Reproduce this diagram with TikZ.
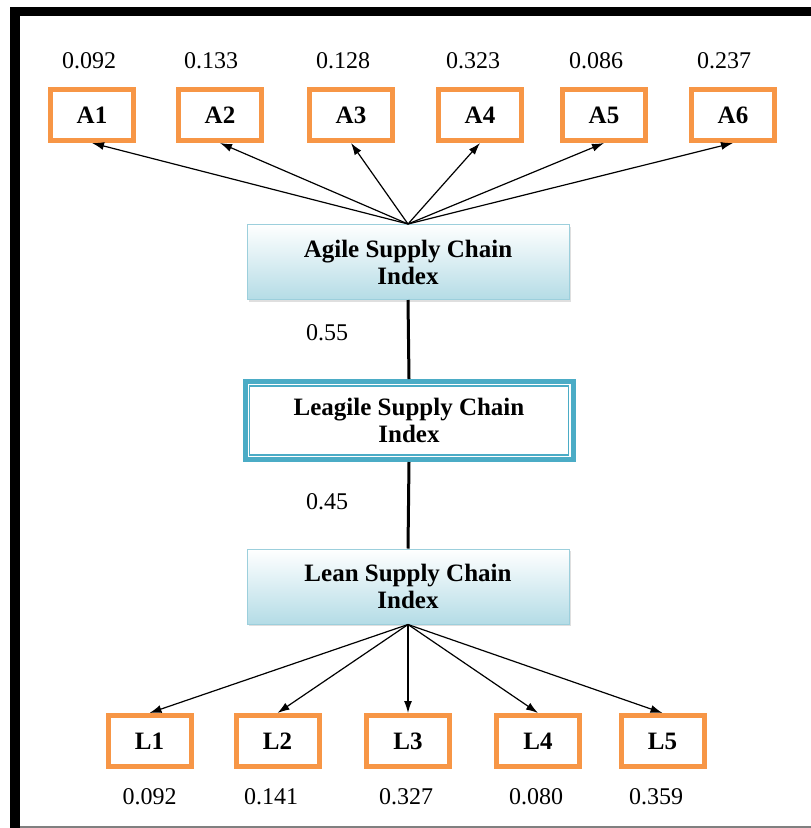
\documentclass[tikz,border=0pt]{standalone}
\usepackage{fontspec}
\setmainfont{Liberation Serif}
\usetikzlibrary{arrows.meta, positioning, shadows}

\definecolor{boxorange}{HTML}{F79646}
\definecolor{boxteal}{HTML}{4BACC6}
\definecolor{indexblue}{HTML}{B4DCE6}
\definecolor{indexedge}{HTML}{9CCFDC}

\begin{document}
\begin{tikzpicture}[
    x=1pt, y=-1pt,
    every node/.style={font=\fontsize{24}{28}\selectfont},
    item/.style={
        rectangle, draw=boxorange, line width=5pt, fill=white,
        minimum width=83pt, minimum height=51pt,
        font=\fontsize{25}{27}\selectfont\bfseries
    },
    index/.style={
        rectangle, draw=indexedge, line width=1pt,
        top color=white, bottom color=indexblue,
        minimum width=322pt, minimum height=75pt, align=center,
        drop shadow={shadow xshift=2pt, shadow yshift=-2pt, opacity=.25},
        font=\fontsize{25}{27}\selectfont\bfseries
    },
    mainindex/.style={
        rectangle, draw=boxteal, line width=5pt, fill=white,
        minimum width=328pt, minimum height=78pt, align=center,
        font=\fontsize{25}{27}\selectfont\bfseries
    },
    weight/.style={inner sep=0pt},
    link/.style={-{Latex[length=12pt, width=8pt]}, line width=1.2pt},
    spine/.style={line width=3pt}
]
\useasboundingbox (0,0) rectangle (811,828);

% frame
\draw[line width=9.5pt, line join=miter] (15,828) -- (15,11.5) -- (811,11.5);
\draw[gray, line width=1.5pt] (20,827) -- (811,827);

% index boxes
\node [index]     (agile)   at (408,262)   {Agile Supply Chain\\Index};
\node [mainindex] (leagile) at (409,420.5) {Leagile Supply Chain\\Index};
\draw [boxteal, line width=1.5pt]
    ([shift={(7pt,-7pt)}]leagile.north west) rectangle ([shift={(-7pt,7pt)}]leagile.south east);
\node [index]     (lean)    at (408,586.5) {Lean Supply Chain\\Index};

% agile indicators
\node [item] (a1) at (92,115)  {A1};
\node [item] (a2) at (220,115) {A2};
\node [item] (a3) at (351,115) {A3};
\node [item] (a4) at (480,115) {A4};
\node [item] (a5) at (604,115) {A5};
\node [item] (a6) at (733,115) {A6};

\node [weight] (wa1) at (89,61)  {0.092};
\node [weight] (wa2) at (211,61) {0.133};
\node [weight] (wa3) at (343,61) {0.128};
\node [weight] (wa4) at (473,61) {0.323};
\node [weight] (wa5) at (596,61) {0.086};
\node [weight] (wa6) at (724,61) {0.237};

% lean indicators
\node [item] (l1) at (149.5,741) {L1};
\node [item] (l2) at (277.5,741) {L2};
\node [item] (l3) at (408,741)   {L3};
\node [item] (l4) at (538,741)   {L4};
\node [item] (l5) at (662.5,741) {L5};

\node [weight] (wl1) at (149.5,797) {0.092};
\node [weight] (wl2) at (271,797)   {0.141};
\node [weight] (wl3) at (406,797)   {0.327};
\node [weight] (wl4) at (536,797)   {0.080};
\node [weight] (wl5) at (656,797)   {0.359};

% connectors
\foreach \a in {a1,a2,a3,a4,a5,a6}
    \draw [link] (agile.north) -- (\a.south);
\foreach \l in {l1,l2,l3,l4,l5}
    \draw [link] (lean.south) -- (\l.north);

\draw [spine] (agile.south) -- (leagile.north);
\draw [spine] (leagile.south) -- (lean.north);

\node [weight] (wagile) at (327,333) {0.55};
\node [weight] (wlean)  at (327,502) {0.45};
\end{tikzpicture}
\end{document}
